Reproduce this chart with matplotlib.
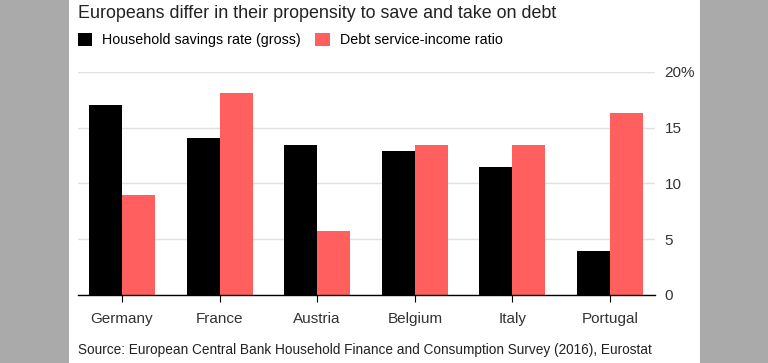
import numpy as np
import matplotlib.pyplot as plt
from matplotlib.patches import Rectangle

# data
countries = ["Germany", "France", "Austria", "Belgium", "Italy", "Portugal"]
savings = [17.0, 14.1, 13.4, 12.9, 11.5, 3.9]
debt = [9.0, 18.1, 5.7, 13.4, 13.4, 16.3]
yticks = [0, 5, 10, 15, 20]
ylabels = ["0", "5", "10", "15", "20%"]

plt.rcParams['font.family'] = ['Liberation Sans', 'DejaVu Sans']

fig = plt.figure(figsize=(7.68, 3.63), dpi=100, facecolor='#aaaaaa')
# white card in the middle
fig.patches.append(Rectangle((69/768, 0), (700-69)/768, 1, transform=fig.transFigure,
                             facecolor='white', edgecolor='none', zorder=-10))

ax = fig.add_axes([78/768, 1-295/363, (655-78)/768, (295-71.7)/363])
ax.set_facecolor('none')

x = np.arange(len(countries))
w = 0.338
b1 = ax.bar(x - w/2, savings, w, color='black', label='Household savings rate (gross)', zorder=3)
b2 = ax.bar(x + w/2, debt, w, color='#ff5f5f', label='Debt service-income ratio', zorder=3)

ax.set_xlim(-0.45, 5.46)
ax.set_ylim(0, 20)
ax.yaxis.tick_right()
ax.set_yticks(yticks)
ax.set_yticklabels(ylabels)
ax.tick_params(axis='y', length=0, pad=7, labelsize=11, labelcolor='#333333')
ax.grid(axis='y', color='#e0e0e0', linewidth=1, zorder=0)
ax.set_xticks(x)
ax.set_xticklabels(countries)
ax.tick_params(axis='x', length=5, width=0.8, pad=7, labelsize=11, labelcolor='#333333')
for s in ['top', 'right', 'left']:
    ax.spines[s].set_visible(False)
ax.spines['bottom'].set_linewidth(1)
ax.spines['bottom'].set_zorder(4)

fig.text(78/768, 1-14/363, "Europeans differ in their propensity to save and take on debt",
         fontsize=12.9, va='center', ha='left', color='#222222')
fig.legend(handles=[b1, b2], loc='center left', bbox_to_anchor=(78/768, 1-40/363),
           ncol=2, frameon=False, fontsize=10.3, handlelength=1.0, handleheight=1.0,
           handletextpad=0.7, columnspacing=1.0, borderaxespad=0, borderpad=0)
fig.text(78/768, 1-350/363,
         "Source: European Central Bank Household Finance and Consumption Survey (2016), Eurostat",
         fontsize=9.8, va='center', ha='left', color='#222222')

fig.savefig("out.png", dpi=100, facecolor=fig.get_facecolor())
